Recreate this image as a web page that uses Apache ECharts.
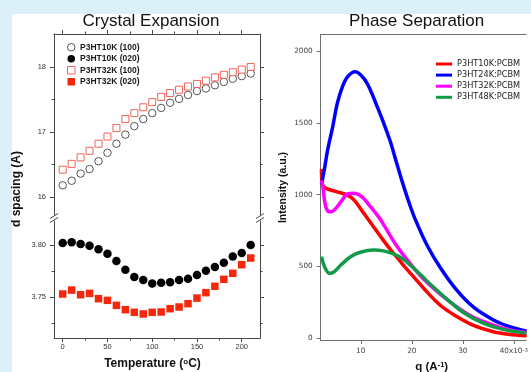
<!DOCTYPE html>
<html>
<head>
<meta charset="utf-8">
<script src="https://cdn.jsdelivr.net/npm/echarts@6/dist/echarts.min.js"></script>
<style>
  html, body { margin: 0; padding: 0; background: #dcf0f9; }
  #sheet { position: absolute; left: 12px; top: 14px; right: 0; bottom: 0; background: #ffffff; }
  #c { position: absolute; left: 0; top: 0; width: 531px; height: 372px; }
</style>
</head>
<body>
<div id="sheet"></div>
<div id="c"></div>
<script>
// ---- Crystal expansion: d spacing vs temperature ----
const temps = [0, 10, 20, 30, 40, 50, 60, 70, 80, 90, 100, 110, 120, 130, 140, 150, 160, 170, 180, 190, 200, 210];
const d100_10k = [16.18, 16.25, 16.36, 16.43, 16.55, 16.68, 16.82, 16.96, 17.09, 17.20, 17.29, 17.37, 17.45, 17.51, 17.57, 17.63, 17.67, 17.72, 17.77, 17.82, 17.86, 17.90];
const d020_10k = [3.8019, 3.8026, 3.8010, 3.7994, 3.7960, 3.7917, 3.7846, 3.7763, 3.7692, 3.7663, 3.7631, 3.7638, 3.7641, 3.7663, 3.7676, 3.7712, 3.7753, 3.7788, 3.7830, 3.7890, 3.7923, 3.8000];
const d100_32k = [16.42, 16.51, 16.61, 16.71, 16.82, 16.93, 17.06, 17.20, 17.29, 17.38, 17.46, 17.54, 17.60, 17.65, 17.70, 17.74, 17.79, 17.84, 17.88, 17.92, 17.96, 18.00];
const d020_32k = [3.7529, 3.7567, 3.7522, 3.7535, 3.7484, 3.7468, 3.7420, 3.7378, 3.7353, 3.7337, 3.7353, 3.7356, 3.7388, 3.7404, 3.7436, 3.7490, 3.7542, 3.7603, 3.7670, 3.7728, 3.7811, 3.7875];

const tempTicks = [0, 50, 100, 150, 200];
const tempMinor = [25, 75, 125, 175];
const upperTicks = [16, 17, 18];
const upperMinor = [16.5, 17.5];
const lowerTicks = [3.75, 3.80];
const lowerMinor = [3.725, 3.775];

// ---- Phase separation: scattering intensity vs q (x10^-3 A^-1) ----
const q10k = [2.3, 2.5, 3.2, 5.4, 7.4, 8.7, 10.6, 12.5, 14.4, 16.3, 17.4, 18.3, 19.9, 22.5, 25.7, 28.9, 32.1, 36.0, 39.0, 42.5];
const i10k = [1180, 1070, 1044, 1020, 997, 962, 870, 776, 683, 595, 550, 510, 445, 340, 225, 148, 88, 44, 26, 15];
const q24k = [2.3, 2.9, 3.5, 4.5, 5.4, 6.4, 7.4, 8.9, 10.6, 11.9, 13.1, 14.4, 15.7, 17.0, 18.0, 19.3, 20.6, 23.1, 25.7, 28.9, 32.1, 36.0, 39.2, 42.5];
const i24k = [1070, 1183, 1311, 1473, 1637, 1752, 1822, 1857, 1811, 1729, 1625, 1508, 1381, 1225, 1105, 962, 835, 640, 485, 330, 215, 126, 79, 47];
const q32k = [2.3, 2.6, 2.9, 3.3, 3.9, 4.5, 5.1, 6.1, 7.4, 8.6, 10.25, 11.85, 13.8, 15.7, 17.4, 19.9, 22.5, 25.7, 28.9, 32.1, 36.0, 39.0, 42.5];
const i32k = [1100, 1050, 960, 900, 880, 885, 904, 950, 1005, 1010, 985, 918, 830, 718, 625, 510, 404, 302, 215, 145, 90, 58, 38];
const q48k = [2.3, 2.9, 3.85, 4.8, 6.1, 8.0, 9.9, 12.5, 14.4, 16.3, 18.3, 19.9, 22.0, 23.8, 27.0, 30.1, 34.0, 37.9, 42.5];
const i48k = [567, 497, 451, 462, 509, 567, 598, 614, 608, 588, 550, 502, 432, 370, 268, 178, 104, 60, 34];

const qTicks = [10, 20, 30, 40];
const intensityTicks = [0, 500, 1000, 1500, 2000];

const AR = '"Liberation Sans", Arial, sans-serif';
const DV = '"DejaVu Sans", Verdana, sans-serif';
const FRAME_L = '#474747';
const FRAME_R = '#6e6e6e';

const tRange = [-9.72, 220.4];
const upRange = [15.723, 18.508];
const loRange = [3.7106, 3.8231];
const qRange = [2.15, 42.43];
const iRange = [-14, 2119];

function axis(gridIndex, position, range, o) {
  return {
    type: 'value', gridIndex: gridIndex, position: position,
    min: range[0], max: range[1],
    splitLine: { show: false },
    axisPointer: { show: false },
    axisLine: { show: !!o.line, onZero: false, lineStyle: { color: o.color, width: 1 } },
    axisTick: { show: !!o.ticks, inside: false, length: o.len || 4, customValues: o.ticks || [], lineStyle: { color: o.color, width: 1 } },
    axisLabel: o.labels ? Object.assign({ show: true, customValues: o.labels }, o.labelStyle) : { show: false }
  };
}

const leftLabel = { fontFamily: AR, fontSize: 7.5, color: '#333' };
const rightLabel = { fontFamily: DV, fontSize: 7.3, color: '#444' };

const pairs = (xs, ys) => xs.map((x, i) => [x, ys[i]]);

const chart = echarts.init(document.getElementById('c'), null, { renderer: 'canvas' });

chart.setOption({
  animation: false,
  grid: [
    { left: 54, top: 34, width: 206, height: 181 },
    { left: 54, top: 221, width: 206, height: 117 },
    { left: 320.7, top: 34.3, right: 0, height: 305.7 }
  ],
  xAxis: [
    axis(0, 'top', tRange, { line: true, color: FRAME_L, ticks: tempTicks }),
    axis(0, 'top', tRange, { color: FRAME_L, ticks: tempMinor, len: 2.5 }),
    axis(1, 'bottom', tRange, { line: true, color: FRAME_L, ticks: tempTicks, labels: tempTicks,
      labelStyle: Object.assign({ margin: 5 }, leftLabel) }),
    axis(1, 'bottom', tRange, { color: FRAME_L, ticks: tempMinor, len: 2.5 }),
    axis(2, 'bottom', qRange, { line: true, color: FRAME_R, ticks: qTicks, labels: qTicks,
      labelStyle: Object.assign({
        margin: 8,
        formatter: v => (v === 40 ? '40x10{s|-3}' : String(v)),
        rich: { s: { fontFamily: DV, fontSize: 5.5, color: '#444', verticalAlign: 'top' } }
      }, rightLabel) }),
    axis(2, 'top', qRange, { line: true, color: FRAME_R })
  ],
  yAxis: [
    axis(0, 'left', upRange, { line: true, color: FRAME_L, ticks: upperTicks, labels: upperTicks,
      labelStyle: Object.assign({ margin: 8 }, leftLabel) }),
    axis(0, 'left', upRange, { color: FRAME_L, ticks: upperMinor, len: 2.5 }),
    axis(0, 'right', upRange, { line: true, color: FRAME_L, ticks: upperTicks }),
    axis(0, 'right', upRange, { color: FRAME_L, ticks: upperMinor, len: 2.5 }),
    axis(1, 'left', loRange, { line: true, color: FRAME_L, ticks: lowerTicks, labels: lowerTicks,
      labelStyle: Object.assign({ margin: 8, formatter: v => v.toFixed(2) }, leftLabel) }),
    axis(1, 'left', loRange, { color: FRAME_L, ticks: lowerMinor, len: 2.5 }),
    axis(1, 'right', loRange, { line: true, color: FRAME_L, ticks: lowerTicks }),
    axis(1, 'right', loRange, { color: FRAME_L, ticks: lowerMinor, len: 2.5 }),
    axis(2, 'left', iRange, { line: true, color: FRAME_R, ticks: intensityTicks, labels: intensityTicks,
      labelStyle: Object.assign({ margin: 8, formatter: v => String(v) }, rightLabel) })
  ],
  legend: [
    {
      left: 67, top: 42.5, orient: 'vertical', padding: 0, itemGap: 2,
      itemWidth: 7.5, itemHeight: 7.5, selectedMode: false,
      textStyle: { fontFamily: AR, fontSize: 8.5, fontWeight: 'bold', color: '#1a1a1a', lineHeight: 9.5 },
      data: [
        { name: 'P3HT10K (100)', icon: 'circle', itemStyle: { color: '#ffffff', borderColor: '#555555', borderWidth: 1 } },
        { name: 'P3HT10K (020)', icon: 'circle', itemStyle: { color: '#000000', borderWidth: 0 } },
        { name: 'P3HT32K (100)', icon: 'rect', itemStyle: { color: '#ffffff', borderColor: '#f0645a', borderWidth: 1 } },
        { name: 'P3HT32K (020)', icon: 'rect', itemStyle: { color: '#f5280c', borderWidth: 0 } }
      ]
    },
    {
      left: 436, top: 59, orient: 'vertical', padding: 0, itemGap: 1.1,
      itemWidth: 16, itemHeight: 3, icon: 'rect', selectedMode: false,
      textStyle: { fontFamily: DV, fontSize: 8.2, color: '#222', lineHeight: 10 },
      data: ['P3HT10K:PCBM', 'P3HT24K:PCBM', 'P3HT32K:PCBM', 'P3HT48K:PCBM']
    }
  ],
  series: [
    { name: 'P3HT10K (100)', type: 'scatter', xAxisIndex: 0, yAxisIndex: 0,
      symbol: 'circle', symbolSize: 7.5,
      itemStyle: { color: '#ffffff', borderColor: '#555555', borderWidth: 1, opacity: 1 },
      data: pairs(temps, d100_10k) },
    { name: 'P3HT32K (100)', type: 'scatter', xAxisIndex: 0, yAxisIndex: 0,
      symbol: 'rect', symbolSize: 7,
      itemStyle: { color: '#ffffff', borderColor: '#f0645a', borderWidth: 1, opacity: 1 },
      data: pairs(temps, d100_32k) },
    { name: 'P3HT10K (020)', type: 'scatter', xAxisIndex: 2, yAxisIndex: 4,
      symbol: 'circle', symbolSize: 8.5,
      itemStyle: { color: '#000000', opacity: 1 },
      data: pairs(temps, d020_10k) },
    { name: 'P3HT32K (020)', type: 'scatter', xAxisIndex: 2, yAxisIndex: 4,
      symbol: 'rect', symbolSize: 7.5,
      itemStyle: { color: '#f5280c', opacity: 1 },
      data: pairs(temps, d020_32k) },

    { name: 'P3HT10K:PCBM', type: 'line', xAxisIndex: 4, yAxisIndex: 8, smooth: 0.35,
      showSymbol: false, lineStyle: { color: '#ff0000', width: 3.5 }, itemStyle: { color: '#ff0000' },
      data: pairs(q10k, i10k) },
    { name: 'P3HT24K:PCBM', type: 'line', xAxisIndex: 4, yAxisIndex: 8, smooth: 0.35,
      showSymbol: false, lineStyle: { color: '#0000ff', width: 3.5 }, itemStyle: { color: '#0000ff' },
      data: pairs(q24k, i24k) },
    { name: 'P3HT32K:PCBM', type: 'line', xAxisIndex: 4, yAxisIndex: 8, smooth: 0.35,
      showSymbol: false, lineStyle: { color: '#ff00ff', width: 3.5 }, itemStyle: { color: '#ff00ff' },
      data: pairs(q32k, i32k) },
    { name: 'P3HT48K:PCBM', type: 'line', xAxisIndex: 4, yAxisIndex: 8, smooth: 0.35,
      showSymbol: false, lineStyle: { color: '#129a48', width: 3.5 }, itemStyle: { color: '#129a48' },
      data: pairs(q48k, i48k) }
  ],
  graphic: [
    // panel titles
    { type: 'text', x: 151, y: 21, silent: true,
      style: { text: 'Crystal Expansion', font: '17px ' + AR, fill: '#111',
        textAlign: 'center', textVerticalAlign: 'middle', align: 'center', verticalAlign: 'middle' } },
    { type: 'text', x: 416.7, y: 21, silent: true,
      style: { text: 'Phase Separation', font: '17px ' + AR, fill: '#111',
        textAlign: 'center', textVerticalAlign: 'middle', align: 'center', verticalAlign: 'middle' } },
    // axis titles
    { type: 'text', x: 16.7, y: 189, rotation: Math.PI / 2, silent: true,
      style: { text: 'd spacing (A)', font: 'bold 12px ' + AR, fill: '#111',
        textAlign: 'center', textVerticalAlign: 'middle', align: 'center', verticalAlign: 'middle' } },
    { type: 'text', x: 152.5, y: 364, silent: true,
      style: { text: 'Temperature ({s|o}C)', font: 'bold 12px ' + AR, fill: '#111',
        textAlign: 'center', textVerticalAlign: 'middle', align: 'center', verticalAlign: 'middle',
        rich: { s: { fontFamily: AR, fontWeight: 'bold', fontSize: 8, fill: '#111', verticalAlign: 'top' } } } },
    { type: 'text', x: 283, y: 187.5, rotation: Math.PI / 2, silent: true,
      style: { text: 'Intensity (a.u.)', font: 'bold 10.5px ' + AR, fill: '#111',
        textAlign: 'center', textVerticalAlign: 'middle', align: 'center', verticalAlign: 'middle' } },
    { type: 'text', x: 431.7, y: 367, silent: true,
      style: { text: 'q (A{s|-1})', font: 'bold 11.5px ' + AR, fill: '#111',
        textAlign: 'center', textVerticalAlign: 'middle', align: 'center', verticalAlign: 'middle',
        rich: { s: { fontFamily: AR, fontWeight: 'bold', fontSize: 7.5, fill: '#111', verticalAlign: 'top' } } } },
    // axis break marks
    { type: 'line', silent: true, shape: { x1: 50, y1: 218.5, x2: 58, y2: 213.5 }, style: { stroke: FRAME_L, lineWidth: 1 } },
    { type: 'line', silent: true, shape: { x1: 50, y1: 222.5, x2: 58, y2: 217.5 }, style: { stroke: FRAME_L, lineWidth: 1 } },
    { type: 'line', silent: true, shape: { x1: 256, y1: 218.5, x2: 264, y2: 213.5 }, style: { stroke: FRAME_L, lineWidth: 1 } },
    { type: 'line', silent: true, shape: { x1: 256, y1: 222.5, x2: 264, y2: 217.5 }, style: { stroke: FRAME_L, lineWidth: 1 } }
  ]
});
</script>
</body>
</html>
